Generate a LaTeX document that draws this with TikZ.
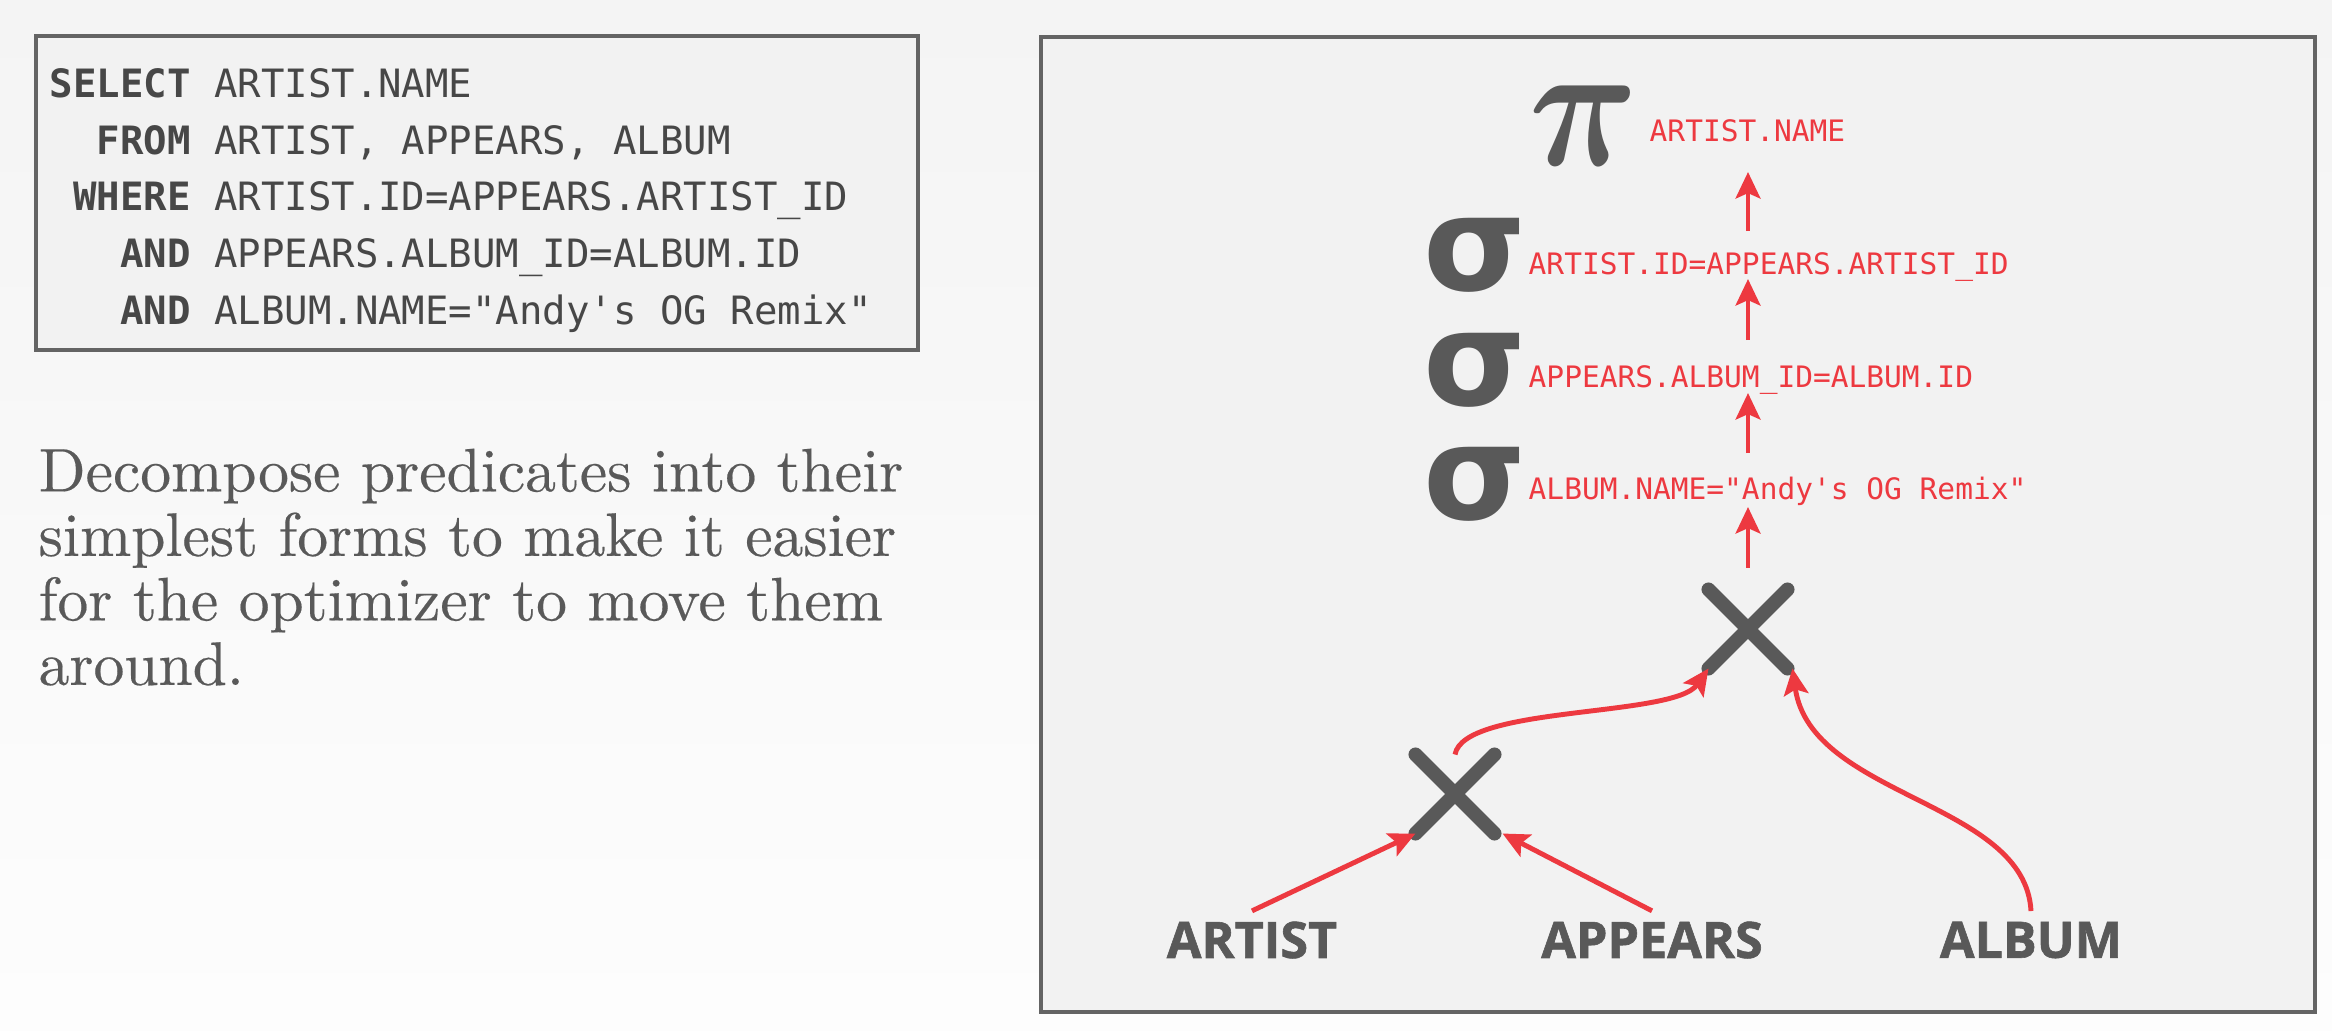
\documentclass[tikz,border=0pt]{standalone}
\usepackage{amsmath}
\usepackage{graphicx}
\usepackage{fontspec}
\usetikzlibrary{arrows.meta,shapes.misc}

\newfontfamily\codefont{DejaVu Sans Mono}[Ligatures=TeXOff]
\newfontfamily\symfont{DejaVu Sans}
\newfontfamily\tblfont{Open Sans}[BoldFeatures={FakeBold=1.2}]
\newfontfamily\descfont{lmroman10-regular.otf}[FakeBold=0.3]

\definecolor{txtgray}{HTML}{595959}
\definecolor{codegray}{HTML}{474747}
\definecolor{framegray}{HTML}{646464}
\definecolor{panelgray}{HTML}{F2F2F2}
\definecolor{pagetop}{HTML}{F4F4F4}
\definecolor{pagebot}{HTML}{FDFDFD}
\definecolor{predred}{RGB}{237,57,64}

\begin{document}
\begin{tikzpicture}[
      x=1cm, y=1cm,
      frm/.style = {draw=framegray, line width=1.1pt, fill=panelgray},
      op/.style  = {inner sep=0pt, text=txtgray},
      sg/.style  = {op, font=\symfont\bfseries\fontsize{37.6}{40}\selectfont},
      pr/.style  = {anchor=base west, inner sep=0pt, text=predred, font=\codefont\fontsize{8.4}{10}\selectfont},
      jn/.style  = {cross out, draw=txtgray, line width=4pt, line cap=round, minimum size=5.9mm, inner sep=0pt, outer sep=1mm},
      tb/.style  = {inner sep=1mm, text=txtgray, font=\tblfont\bfseries\fontsize{14.3}{16}\selectfont},
      ar/.style  = {draw=predred, line width=1.4pt, -{Stealth[length=7.5pt, width=7pt, inset=1.5pt]}},
    ]
    \useasboundingbox (0,0) rectangle (23.32,-10.30);
    \fill[top color=pagetop, bottom color=pagebot] (0,0) rectangle (23.32,-10.30);

    % query
    \draw[frm] (0.36,-0.36) rectangle (9.18,-3.50);
    \node[anchor=north west, inner sep=0pt, text=codegray,
          font=\codefont\fontsize{11.1}{16.1}\selectfont] (sql) at (0.49,-0.574) {%
      \begin{tabular}{@{}r@{ }l@{}}
        \textbf{SELECT} & ARTIST.NAME\\
        \textbf{FROM}   & ARTIST, APPEARS, ALBUM\\
        \textbf{WHERE}  & ARTIST.ID=APPEARS.ARTIST\_ID\\
        \textbf{AND}    & APPEARS.ALBUM\_ID=ALBUM.ID\\
        \textbf{AND}    & ALBUM.NAME="Andy's OG Remix"
      \end{tabular}};

    \node[anchor=north west, inner sep=0pt, align=left, text=txtgray,
          font=\descfont\fontsize{17.5}{18.35}\selectfont] (desc) at (0.38,-4.48)
      {Decompose predicates into their\\ simplest forms to make it easier\\
       for the optimizer to move them\\ around.};

    % plan tree
    \draw[frm] (10.41,-0.37) rectangle (23.15,-10.12);

    \node[op] (prj) at (15.84,-1.26) {\scalebox{4.3}[5.1]{$\boldsymbol{\pi}$}};
    \node[pr] (prjl) at (16.49,-1.41) {ARTIST.NAME};
    \node[sg] (sel1) at (14.75,-2.55) {σ};
    \node[pr] (sel1l) at (15.28,-2.74) {ARTIST.ID=APPEARS.ARTIST\_ID};
    \node[sg] (sel2) at (14.75,-3.70) {σ};
    \node[pr] (sel2l) at (15.28,-3.87) {APPEARS.ALBUM\_ID=ALBUM.ID};
    \node[sg] (sel3) at (14.75,-4.84) {σ};
    \node[pr] (sel3l) at (15.28,-4.99) {ALBUM.NAME="Andy's OG Remix"};

    \node[jn] (jn2) at (17.48,-6.29) {};
    \node[jn] (jn1) at (14.55,-7.94) {};

    \node[tb] (art) at (12.52,-9.40) {ARTIST};
    \node[tb] (app) at (16.52,-9.40) {APPEARS};
    \node[tb] (alb) at (20.31,-9.40) {ALBUM};

    \draw[ar] ([yshift=0.43cm]jn2.center |- sel1l.base) -- ([yshift=-0.31cm]jn2.center |- prjl.base);
    \draw[ar] ([yshift=0.47cm]jn2.center |- sel2l.base) -- ([yshift=-0.05cm]jn2.center |- sel1l.base);
    \draw[ar] ([yshift=0.46cm]jn2.center |- sel3l.base) -- ([yshift=-0.06cm]jn2.center |- sel2l.base);
    \draw[ar] ([yshift=0.22cm]jn2.north) -- ([yshift=-0.08cm]jn2.center |- sel3l.base);

    \draw[ar] (art.north) -- (jn1.south west);
    \draw[ar] (app.north) -- ([xshift=0.08cm]jn1.south east);
    \draw[ar] (jn1.north) .. controls +(80:0.5) and +(235:0.6) .. (jn2.south west);
    \draw[ar] (alb.north) .. controls +(93:1.1) and +(278:1.3) .. ([xshift=0.05cm]jn2.south east);
  \end{tikzpicture}
\end{document}
